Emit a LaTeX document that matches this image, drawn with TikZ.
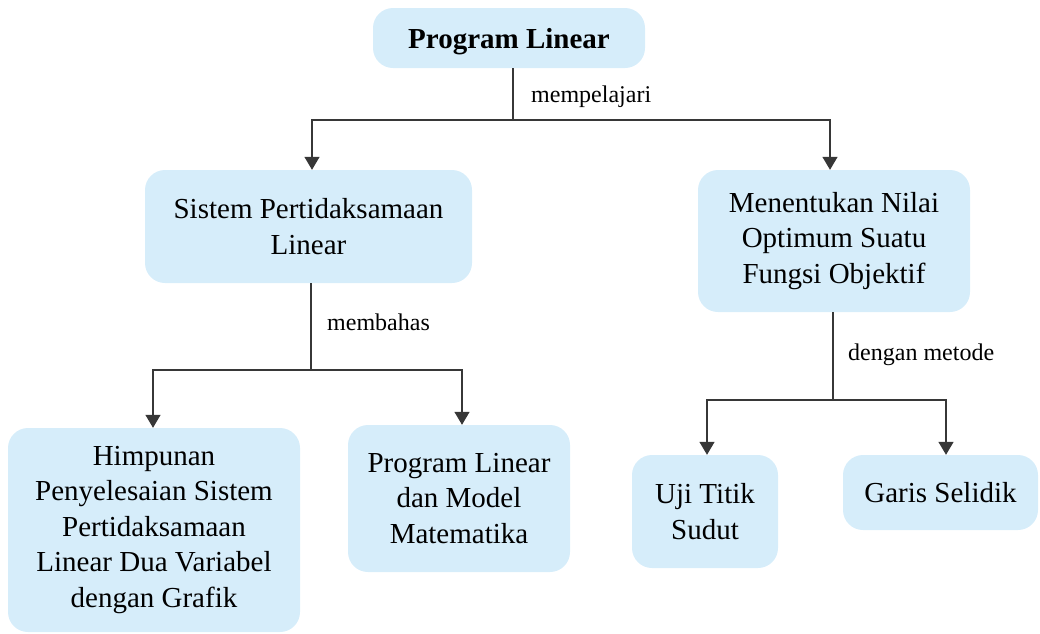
\documentclass[tikz,border=0pt]{standalone}
\usepackage{fontspec}
\setmainfont{Liberation Serif}
\definecolor{boxblue}{RGB}{214, 237, 250}
\definecolor{linegray}{RGB}{55, 55, 55}
\usetikzlibrary{arrows.meta, positioning}

\begin{document}
\begin{tikzpicture}[
  x=1pt, y=-1pt,
  cbox/.style={fill=boxblue, draw=none, rounded corners=20pt, align=center, inner sep=4pt, font=\fontsize{29}{35.5}\selectfont},
  lbl/.style={font=\fontsize{24}{28}\selectfont, anchor=base west, inner sep=0pt},
  conn/.style={draw=linegray, line width=1.4pt},
  arr/.style={conn, -{Triangle[width=15pt, length=13pt]}}
]
  \useasboundingbox (0,0) rectangle (1040,633);

  \node[cbox, minimum width=272pt, minimum height=60pt, font=\fontsize{29}{35}\selectfont\bfseries] (prog) at (509,38) {\raisebox{-4pt}[\height][\depth]{Program Linear}};
  \node[cbox, minimum width=327pt, minimum height=113pt] (spl) at (308.5,226.5) {Sistem Pertidaksamaan\\Linear};
  \node[cbox, minimum width=272pt, minimum height=142pt] (nilai) at (834,241) {Menentukan Nilai\\Optimum Suatu\\Fungsi Objektif};
  \node[cbox, minimum width=292pt, minimum height=204pt] (hpsl) at (154,530) {Himpunan\\Penyelesaian Sistem\\Pertidaksamaan\\Linear Dua Variabel\\dengan Grafik};
  \node[cbox, minimum width=222pt, minimum height=147pt] (model) at (459,498.5) {Program Linear\\dan Model\\Matematika};
  \node[cbox, minimum width=146pt, minimum height=113pt] (uji) at (705,511.5) {Uji Titik\\Sudut};
  \node[cbox, minimum width=195pt, minimum height=75pt] (garis) at (940.5,492.5) {Garis Selidik};

  % junctions
  \coordinate (j1) at (513,120);
  \coordinate (j2) at (311,370);
  \coordinate (j3) at (833,400);

  \draw[conn] (prog.south -| j1) -- (j1);
  \draw[arr] (j1) -| ([xshift=3.5pt]spl.north);
  \draw[arr] (j1) -| ([xshift=-4pt]nilai.north);
  \node[lbl] (lmp) at (531,102) {mempelajari};

  \draw[conn] (spl.south -| j2) -- (j2);
  \draw[arr] (j2) -| ([xshift=-1pt]hpsl.north);
  \draw[arr] (j2) -| ([xshift=3pt]model.north);
  \node[lbl] (lmb) at (327,330) {membahas};

  \draw[conn] (nilai.south -| j3) -- (j3);
  \draw[arr] (j3) -| ([xshift=2pt]uji.north);
  \draw[arr] (j3) -| ([xshift=5.5pt]garis.north);
  \node[lbl] (ldm) at (848,360) {dengan metode};
\end{tikzpicture}
\end{document}
